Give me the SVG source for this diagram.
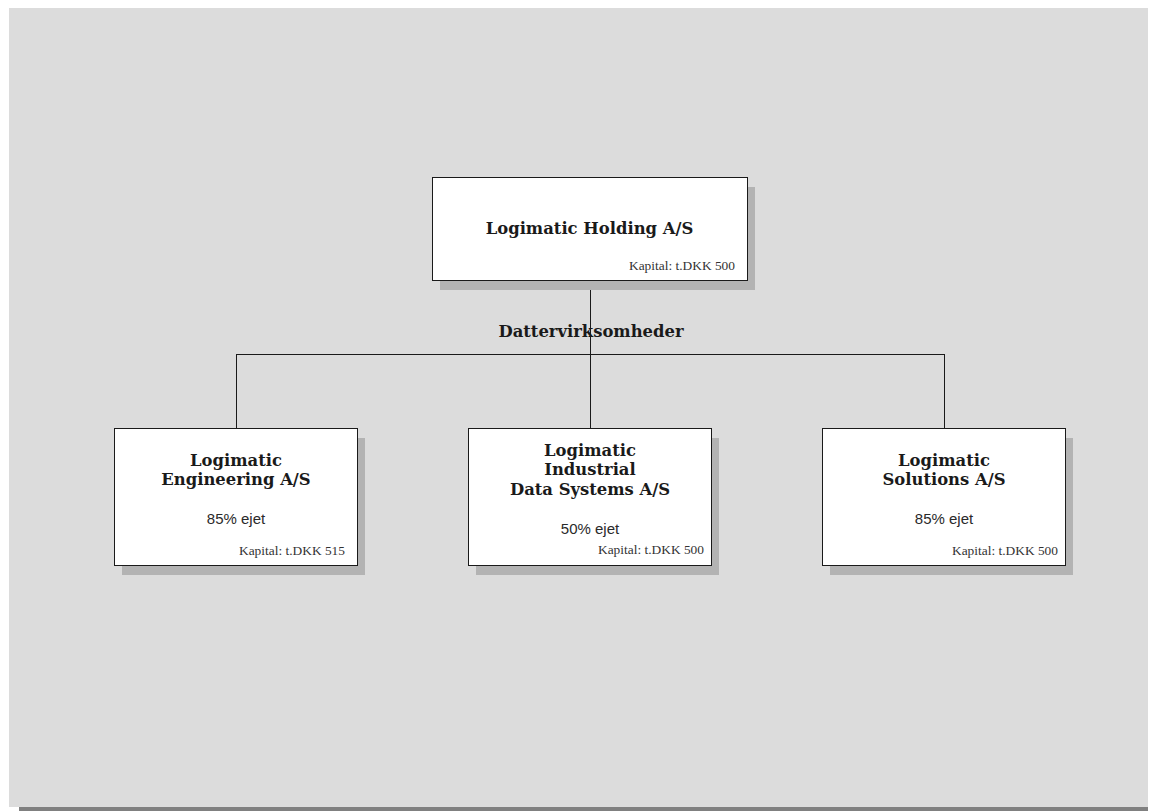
<svg xmlns="http://www.w3.org/2000/svg" width="1156" height="811" viewBox="0 0 1156 811">
<style>
.box{fill:#ffffff;stroke:#1a1a1a;stroke-width:1}
.shadow{fill:#b3b3b3}
.title{font-family:"DejaVu Serif","Liberation Serif",serif;font-weight:bold;font-size:16.4px;fill:#1a1a1a;text-anchor:middle}
.pct{font-family:"Liberation Sans","Arial",sans-serif;font-size:15px;fill:#2a2a2a;text-anchor:middle}
.cap{font-family:"Liberation Serif","Times New Roman",serif;font-size:13.4px;fill:#333333;text-anchor:end}
.conn{stroke:#1a1a1a;stroke-width:1;fill:none}
</style>
<rect x="0" y="0" width="1156" height="811" fill="#ffffff"/>
<rect x="19" y="807" width="1129" height="4" fill="#808080"/>
<rect x="9" y="8" width="1139" height="799" fill="#dcdcdc"/>
<g id="connectors">
<path class="conn" d="M590.5 280 V428 M236.5 354.5 H944.5 M236.5 354 V428 M944.5 354 V428"/>
</g>
<text class="title" x="591" y="337">Dattervirksomheder</text>
<g id="holding">
<rect class="shadow" x="440" y="187" width="315" height="103"/>
<rect class="box" x="432.5" y="177.5" width="315" height="103"/>
<text class="title" x="589.5" y="234">Logimatic Holding A/S</text>
<text class="cap" x="735" y="270">Kapital: t.DKK 500</text>
</g>
<g id="engineering">
<rect class="shadow" x="122" y="438" width="243" height="137"/>
<rect class="box" x="114.5" y="428.5" width="243" height="137"/>
<text class="title" x="236" y="466">Logimatic</text>
<text class="title" x="236" y="485">Engineering A/S</text>
<text class="pct" x="236" y="524">85% ejet</text>
<text class="cap" x="345" y="555">Kapital: t.DKK 515</text>
</g>
<g id="ids">
<rect class="shadow" x="476" y="438" width="243" height="137"/>
<rect class="box" x="468.5" y="428.5" width="243" height="137"/>
<text class="title" x="590" y="455.5">Logimatic</text>
<text class="title" x="590" y="475">Industrial</text>
<text class="title" x="590" y="495">Data Systems A/S</text>
<text class="pct" x="590" y="534">50% ejet</text>
<text class="cap" x="704" y="554">Kapital: t.DKK 500</text>
</g>
<g id="solutions">
<rect class="shadow" x="830" y="438" width="243" height="137"/>
<rect class="box" x="822.5" y="428.5" width="243" height="137"/>
<text class="title" x="944" y="466">Logimatic</text>
<text class="title" x="944" y="485">Solutions A/S</text>
<text class="pct" x="944" y="524">85% ejet</text>
<text class="cap" x="1058" y="555">Kapital: t.DKK 500</text>
</g>
</svg>
